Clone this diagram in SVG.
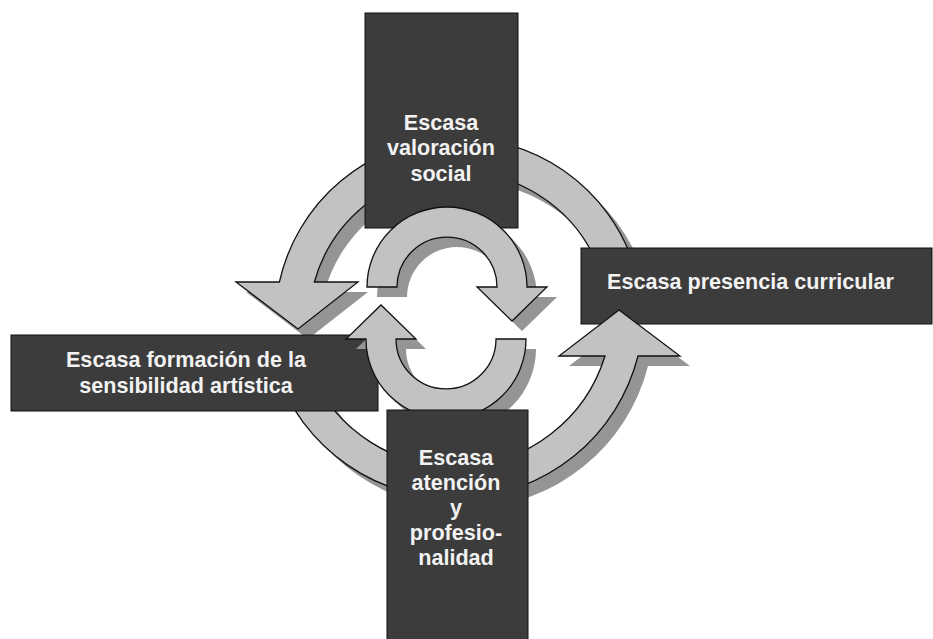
<svg xmlns="http://www.w3.org/2000/svg" xmlns:xlink="http://www.w3.org/1999/xlink" width="933" height="639" viewBox="0 0 933 639">
  <style>
    .arrow { fill: #c2c2c2; stroke: #111; stroke-width: 1.3; stroke-linejoin: miter; }
    .shadow { fill: #959595; stroke: none; }
    .box { fill: #3c3c3c; stroke: #111; stroke-width: 1; }
    .lbl { font-family: "Liberation Sans", Arial, sans-serif; font-weight: bold; font-size: 21.6px; fill: #f2f2f2; }
    .c { text-anchor: middle; }
  </style>
  <defs>
    <path id="arc1" d="M634,265 A184,184 0 0 0 279.4,282 L236,282 L298,329 L358,282 L314.4,282 A150,150 0 0 1 597.7,265 Z"/>
    <path id="arc2" d="M275.8,370 A189,189 0 0 0 638,356 L680,356 L619,310 L559,356 L605,356 A157,157 0 0 1 310,370 Z"/>
    <path id="inner" d="M367,287 A80,80 0 0 1 527,287 L547,287 L512,321 L477,287 L497,287 A50,50 0 0 0 397,287 Z"/>
  </defs>
  <rect width="933" height="639" fill="#ffffff"/>

  <g id="connectors">
    <g id="outer-top-arrow">
      <use xlink:href="#arc1" class="shadow" transform="translate(10,10)"/>
      <use xlink:href="#arc1" class="arrow"/>
    </g>
  </g>

  <g id="node-presencia">
    <rect class="box" x="581" y="248" width="351" height="76"/>
    <text class="lbl" x="607" y="289">Escasa presencia curricular</text>
  </g>

  <g id="connectors-2">
    <g id="outer-bottom-arrow">
      <use xlink:href="#arc2" class="shadow" transform="translate(10,10)"/>
      <use xlink:href="#arc2" class="arrow"/>
    </g>
  </g>

  <g id="node-valoracion">
    <rect class="box" x="365" y="13" width="153" height="215"/>
    <text class="lbl c" x="441" y="130">Escasa</text>
    <text class="lbl c" x="441" y="155">valoración</text>
    <text class="lbl c" x="441" y="181">social</text>
  </g>

  <g id="node-formacion">
    <rect class="box" x="11" y="335" width="367" height="76"/>
    <text class="lbl c" x="186" y="367">Escasa formación de la</text>
    <text class="lbl c" x="186" y="393">sensibilidad artística</text>
  </g>

  <g id="connectors-3">
    <g id="inner-upper-arrow">
      <use xlink:href="#inner" class="shadow" transform="translate(10,10)"/>
      <use xlink:href="#inner" class="arrow"/>
    </g>
    <g id="inner-lower-arrow">
      <use xlink:href="#inner" class="shadow" transform="translate(10,10) rotate(180 446.5 313)"/>
      <use xlink:href="#inner" class="arrow" transform="rotate(180 446.5 313)"/>
    </g>
  </g>

  <g id="node-atencion">
    <rect class="box" x="387" y="410" width="141" height="235"/>
    <text class="lbl c" x="456" y="465">Escasa</text>
    <text class="lbl c" x="456" y="490">atención</text>
    <text class="lbl c" x="456" y="515">y</text>
    <text class="lbl c" x="456" y="540">profesio-</text>
    <text class="lbl c" x="456" y="565">nalidad</text>
  </g>
</svg>
